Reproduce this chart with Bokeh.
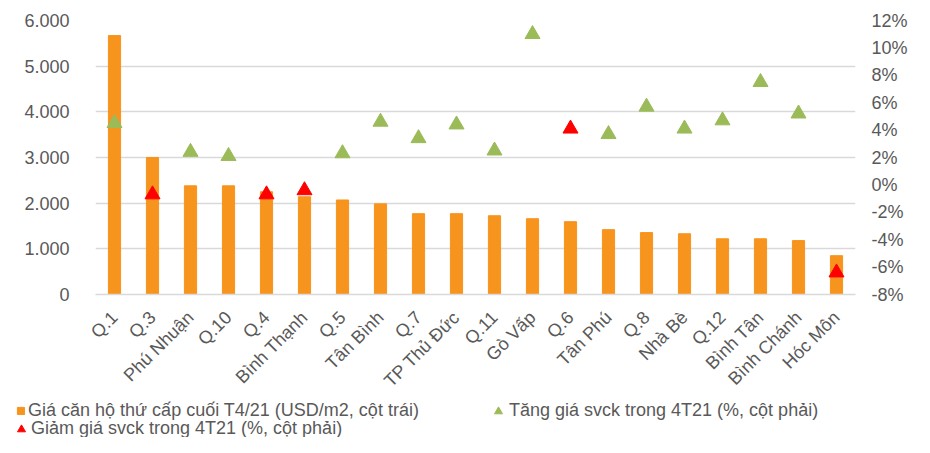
import math
from bokeh.plotting import figure
from bokeh.layouts import column
from bokeh.models import (FactorRange, Range1d, LinearAxis, FixedTicker, CustomJSTickFormatter,
                          Legend, LegendItem, ColumnDataSource)
from bokeh.embed import file_html
from bokeh.resources import INLINE

categories = ["Q.1", "Q.3", "Phú Nhuận", "Q.10", "Q.4", "Bình Thạnh", "Q.5", "Tân Bình", "Q.7",
              "TP Thủ Đức", "Q.11", "Gò Vấp", "Q.6", "Tân Phú", "Q.8", "Nhà Bè", "Q.12",
              "Bình Tân", "Bình Chánh", "Hóc Môn"]
price = [5670, 3000, 2380, 2380, 2250, 2140, 2070, 1985, 1770, 1770, 1725, 1660, 1595, 1420,
         1355, 1330, 1220, 1220, 1180, 850]
nan = float("nan")
increase = [4.5, nan, 2.4, 2.1, nan, nan, 2.3, 4.6, 3.4, 4.4, 2.5, 11.0, nan, 3.7, 5.7, 4.1,
            4.7, 7.5, 5.2, nan]
decrease = [nan, -0.7, nan, nan, -0.7, -0.4, nan, nan, nan, nan, nan, nan, 4.1, nan, nan, nan,
            nan, nan, nan, -6.4]
left_ticks = [0, 1000, 2000, 3000, 4000, 5000, 6000]
right_ticks = [-8, -6, -4, -2, 0, 2, 4, 6, 8, 10, 12]

label_bar = "Giá căn hộ thứ cấp cuối T4/21 (USD/m2, cột trái)"
label_up = "Tăng giá svck trong 4T21 (%, cột phải)"
label_down = "Giảm giá svck trong 4T21 (%, cột phải)"

FONT = "Liberation Sans"
GREY = "#595959"
ORANGE = "#F7941D"
GREEN = "#9BBB59"
RED = "#FF0000"

src = ColumnDataSource(dict(cat=categories, price=price, up=increase, down=decrease))

p = figure(width=914, height=400, output_backend="svg", toolbar_location=None,
           x_range=FactorRange(*categories, range_padding=0),
           y_range=Range1d(0, 6000),
           min_border_left=95, min_border_right=59, min_border_top=20, min_border_bottom=105)
p.frame_align = False
p.extra_y_ranges = {"pct": Range1d(-8, 12)}
p.outline_line_color = None

p.vbar(x="cat", top="price", width=0.32, source=src, color=ORANGE)
p.scatter(x="cat", y="up", source=src, marker="triangle", size=15, color=GREEN,
          y_range_name="pct")
p.scatter(x="cat", y="down", source=src, marker="triangle", size=15, color=RED,
          y_range_name="pct")

p.xgrid.grid_line_color = None
p.ygrid.grid_line_color = "#D9D9D9"
p.ygrid.grid_line_width = 1.5
p.ygrid.ticker = FixedTicker(ticks=left_ticks)

ax = p.yaxis[0]
ax.ticker = FixedTicker(ticks=left_ticks)
ax.formatter = CustomJSTickFormatter(
    code="return Math.round(tick).toString().replace(/\\B(?=(\\d{3})+(?!\\d))/g, '.');")
ax.axis_line_color = None
ax.major_tick_line_color = None
ax.minor_tick_line_color = None
ax.major_label_text_font = FONT
ax.major_label_text_font_size = "18px"
ax.major_label_text_color = GREY
ax.major_label_standoff = 20

right = LinearAxis(y_range_name="pct", ticker=FixedTicker(ticks=right_ticks),
                   formatter=CustomJSTickFormatter(code="return tick + '%';"))
right.axis_line_color = None
right.major_tick_line_color = None
right.minor_tick_line_color = None
right.major_label_text_font = FONT
right.major_label_text_font_size = "18px"
right.major_label_text_color = GREY
right.major_label_standoff = 10
p.add_layout(right, "right")

xa = p.xaxis[0]
xa.axis_line_color = "#D9D9D9"
xa.axis_line_width = 1.5
xa.major_tick_line_color = None
xa.minor_tick_line_color = None
xa.major_label_orientation = math.pi / 4
xa.major_label_text_font = FONT
xa.major_label_text_font_size = "18px"
xa.major_label_text_color = GREY
xa.major_label_standoff = 14

# legend strip below the chart (same data, kept out of view; only the legend shows)
lg = figure(width=914, height=37, output_backend="svg", toolbar_location=None,
            x_axis_location=None, y_axis_location=None, min_border=0,
            x_range=FactorRange(*categories), y_range=Range1d(8000, 9000))
lg.frame_align = False
lg.outline_line_color = None
lg.grid.grid_line_color = None
r_bar = lg.vbar(x="cat", top="price", width=0.32, source=src, color=ORANGE)
r_up = lg.scatter(x="cat", y="up", source=src, marker="triangle", color=GREEN)
r_down = lg.scatter(x="cat", y="down", source=src, marker="triangle", color=RED)

specs = [(r_bar, label_bar, (16, 16), 9, 9, 3),
         (r_up, label_up, (488, 16), 20, 20, 1),
         (r_down, label_down, (11, -2), 20, 20, -3)]
for rend, lab, loc, gw, gh, so in specs:
    leg = Legend(items=[LegendItem(label=lab, renderers=[rend])], location=loc)
    leg.label_text_font = FONT
    leg.label_text_font_size = "18px"
    leg.label_text_color = GREY
    leg.glyph_width = gw
    leg.glyph_height = gh
    leg.label_standoff = so
    leg.spacing = 0
    leg.padding = 0
    leg.margin = 0
    leg.label_height = 18
    leg.border_line_color = None
    leg.background_fill_alpha = 0
    lg.add_layout(leg, "center")

layout = column(p, lg, spacing=0)
open("out.html", "w").write(file_html(layout, INLINE))
